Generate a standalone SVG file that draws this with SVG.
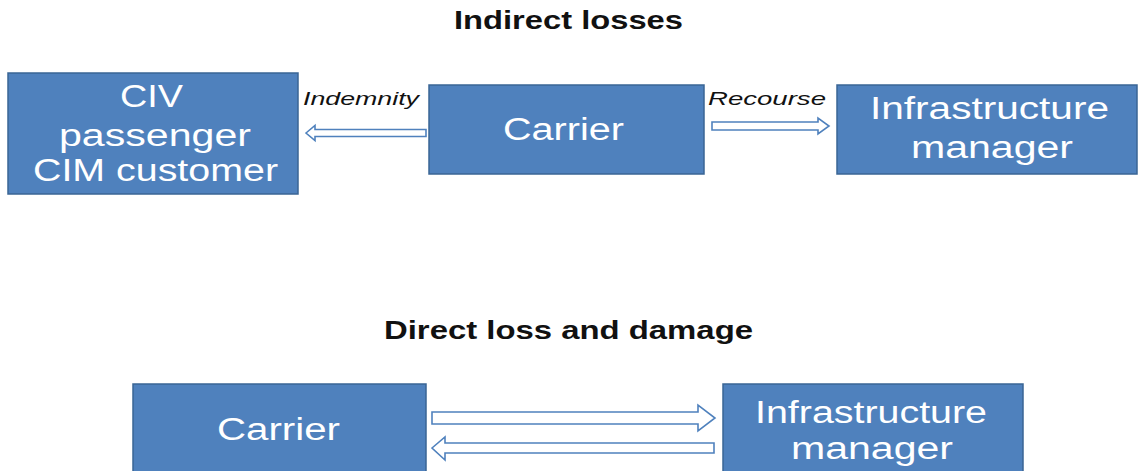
<svg xmlns="http://www.w3.org/2000/svg" width="1140" height="471" viewBox="0 0 1140 471">
  <style>
    .box { fill: #4F81BD; stroke: #3A6595; stroke-width: 1.5; }
    .lbl { font-family: "Liberation Sans", Arial, sans-serif; font-size: 31px; fill: #ffffff; text-anchor: middle; }
    .title { font-family: "Liberation Sans", Arial, sans-serif; font-size: 26px; font-weight: bold; fill: #111111; text-anchor: middle; }
    .edge { font-family: "Liberation Sans", Arial, sans-serif; font-size: 19px; font-style: italic; fill: #111111; text-anchor: middle; }
    .arrow { fill: #ffffff; stroke: #4F81BD; stroke-width: 1.6; stroke-linejoin: miter; }
  </style>

  <rect width="1140" height="471" fill="#ffffff"/>

  <!-- section headings -->
  <text class="title" x="568.5" y="29" textLength="229" lengthAdjust="spacingAndGlyphs">Indirect losses</text>
  <text class="title" x="568.5" y="339" textLength="369" lengthAdjust="spacingAndGlyphs">Direct loss and damage</text>

  <!-- connectors -->
  <g id="connectors">
    <path class="arrow" d="M306,133 L315,125.5 L315,129.5 L426,129.5 L426,136.5 L315,136.5 L315,140.5 Z"/>
    <text class="edge" x="361" y="105" textLength="116" lengthAdjust="spacingAndGlyphs">Indemnity</text>
    <path class="arrow" d="M712,122 L818,122 L818,118 L829,126 L818,134 L818,130 L712,130 Z"/>
    <text class="edge" x="767" y="105" textLength="118" lengthAdjust="spacingAndGlyphs">Recourse</text>
    <path class="arrow" d="M432,412 L698,412 L698,405 L715,418 L698,431 L698,424 L432,424 Z"/>
    <path class="arrow" d="M432,448 L445,437 L445,443 L714,443 L714,453 L445,453 L445,460 Z"/>
  </g>

  <!-- upper row -->
  <g id="civ-passenger">
    <rect class="box" x="8" y="73" width="290" height="121"/>
    <text class="lbl" x="151.5" y="107" textLength="63" lengthAdjust="spacingAndGlyphs">CIV</text>
    <text class="lbl" x="155" y="146" textLength="192" lengthAdjust="spacingAndGlyphs">passenger</text>
    <text class="lbl" x="155.5" y="181" textLength="245" lengthAdjust="spacingAndGlyphs">CIM customer</text>
  </g>
  <g id="carrier-top">
    <rect class="box" x="429" y="85" width="275" height="89"/>
    <text class="lbl" x="563.5" y="140" textLength="121" lengthAdjust="spacingAndGlyphs">Carrier</text>
  </g>
  <g id="infra-top">
    <rect class="box" x="837" y="85" width="300" height="89"/>
    <text class="lbl" x="989.5" y="119" textLength="239" lengthAdjust="spacingAndGlyphs">Infrastructure</text>
    <text class="lbl" x="992" y="158" textLength="162" lengthAdjust="spacingAndGlyphs">manager</text>
  </g>

  <!-- lower row -->
  <g id="carrier-bottom">
    <rect class="box" x="133" y="384" width="293" height="95"/>
    <text class="lbl" x="278.5" y="440" textLength="123" lengthAdjust="spacingAndGlyphs">Carrier</text>
  </g>
  <g id="infra-bottom">
    <rect class="box" x="723" y="384" width="300" height="95"/>
    <text class="lbl" x="871" y="423" textLength="232" lengthAdjust="spacingAndGlyphs">Infrastructure</text>
    <text class="lbl" x="872" y="459" textLength="162" lengthAdjust="spacingAndGlyphs">manager</text>
  </g>
</svg>
